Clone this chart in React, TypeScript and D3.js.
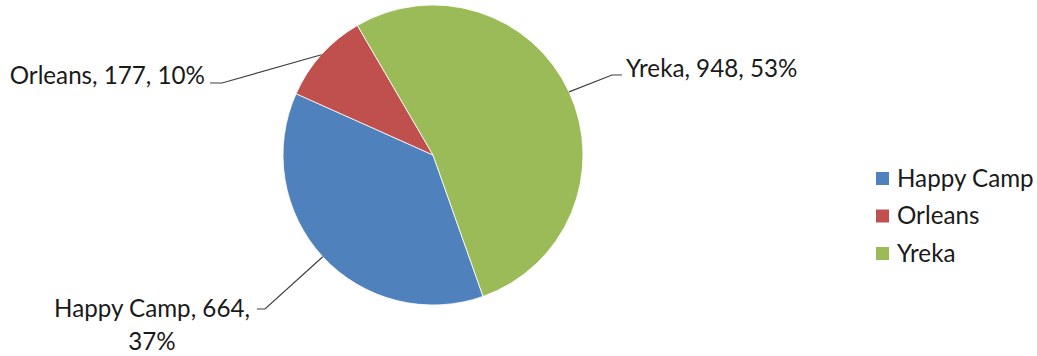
import React from "react";
import * as d3 from "d3";

const categories = ["Happy Camp", "Orleans", "Yreka"];
const values = [664, 177, 948];
const colors = ["#4F81BD", "#C0504D", "#9BBB59"];

const W = 1037;
const H = 356;
const CX = 433;
const CY = 155;
const R = 150;
const START_DEG = 160.5;
const FONT = "Lato, 'Open Sans', sans-serif";
const FS = 24.2;
const TEXT = "#1a1a1a";

// label layout: elbow point, end of horizontal tick, text anchor position
const labelLayout = [
  { elbow: [265, 309], end: [257, 309], tx: 152, ty: 317, anchor: "middle", lines: 2 },
  { elbow: [222, 83], end: [210, 83], tx: 205, ty: 84, anchor: "end", lines: 1 },
  { elbow: [612, 75], end: [622, 75], tx: 626, ty: 77, anchor: "start", lines: 1 },
];

export default function App() {
  const total = d3.sum(values);
  const pie = d3
    .pie<number>()
    .sort(null)
    .startAngle((START_DEG * Math.PI) / 180)
    .endAngle(((START_DEG + 360) * Math.PI) / 180);
  const arcs = pie(values);
  const arc = d3.arc<d3.PieArcDatum<number>>().innerRadius(0).outerRadius(R);
  const fmtPct = (v: number) => `${Math.round((v / total) * 100)}%`;

  return (
    <svg
      width={W}
      height={H}
      style={{ position: "absolute", left: 0, top: 0, background: "#fff" }}
      fontFamily={FONT}
    >
      <g transform={`translate(${CX},${CY})`}>
        {arcs.map((a, i) => (
          <path key={i} d={arc(a) || ""} fill={colors[i]} stroke="#fff" strokeWidth={0.8} />
        ))}
      </g>
      {arcs.map((a, i) => {
        const mid = (a.startAngle + a.endAngle) / 2;
        const sx = CX + R * Math.sin(mid);
        const sy = CY - R * Math.cos(mid);
        const L = labelLayout[i];
        const pts = [[sx, sy], L.elbow, L.end];
        const line = d3.line()(pts as [number, number][]) || "";
        const name = categories[i];
        const val = values[i];
        return (
          <g key={i}>
            <path d={line} fill="none" stroke="#404040" strokeWidth={1.2} />
            {L.lines === 2 ? (
              <text x={L.tx} y={L.ty} textAnchor={L.anchor as any} fontSize={FS} fill={TEXT}>
                <tspan x={L.tx}>{`${name}, ${val},`}</tspan>
                <tspan x={L.tx} dy={33}>{fmtPct(val)}</tspan>
              </text>
            ) : (
              <text x={L.tx} y={L.ty} textAnchor={L.anchor as any} fontSize={FS} fill={TEXT}>
                {`${name}, ${val}, ${fmtPct(val)}`}
              </text>
            )}
          </g>
        );
      })}
      <g>
        {categories.map((c, i) => (
          <g key={c} transform={`translate(876,${172 + i * 37.5})`}>
            <rect x={0} y={0} width={13} height={13} fill={colors[i]} />
            <text x={21} y={14.5} fontSize={FS} fill={TEXT}>
              {c}
            </text>
          </g>
        ))}
      </g>
    </svg>
  );
}
